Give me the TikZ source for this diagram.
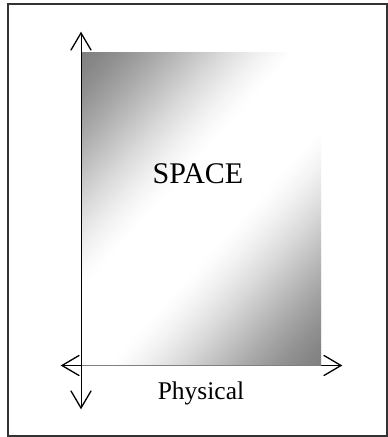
\documentclass[tikz,border=0pt]{standalone}
\usepackage{fontspec}
\setmainfont{Liberation Serif}
\usetikzlibrary{calc}
\tikzset{
  axisline/.style={line width=1pt,black},
  barb/.style={line width=1.3pt,black,line cap=round,line join=miter},
  frame/.style={draw=black!80,line width=1.1pt},
  lbl/.style={anchor=base,inner sep=0pt}
}
\begin{document}
\begin{tikzpicture}[x=1pt,y=1pt]
\useasboundingbox (0,0) rectangle (388,437);
\draw[frame] (8,1) rectangle (387,433);
% axes ends
\coordinate (hl) at (62,71.5);
\coordinate (hr) at (341,71.5);
\coordinate (vb) at (81,29);
\coordinate (vt) at (81,404);
\draw[axisline] (hl) -- (hr);
% shaded space
\begin{scope}
\clip (81,71.3) rectangle (321,384.3);
\begin{scope}[shift={(201,227.8)},rotate=48]
\foreach \i in {0,...,199}{
  \pgfmathsetmacro{\ya}{-200+2*\i}
  \pgfmathsetmacro{\yb}{\ya+2.6}
  \pgfmathsetmacro{\t}{max(0,min(1,(abs(\ya+1)-36)/158))}
  \pgfmathsetmacro{\p}{50*\t*\t*(3-2*\t)*0.5+25*\t}
  \fill[black!\p] (-320,\ya) rectangle (320,\yb);
}
\end{scope}
\end{scope}
\draw[black!50,line width=0.8pt] (81,71.5) -- (321,71.5);
\draw[axisline] (vb) -- (vt);
% arrow heads
\draw[barb] ($(vt)+(-10,-17)$) -- (vt) -- ($(vt)+(10,-17)$);
\draw[barb] ($(vb)+(-10,17)$) -- (vb) -- ($(vb)+(10,17)$);
\draw[barb] ($(hl)+(17,10)$) -- (hl) -- ($(hl)+(17,-10)$);
\draw[barb] ($(hr)+(-17,10)$) -- (hr) -- ($(hr)+(-17,-10)$);
\node[lbl,font=\fontsize{30}{36}\selectfont] (space) at (198,253) {SPACE};
\node[lbl,font=\fontsize{25.5}{30}\selectfont] (phys) at (201,37.7) {Physical};
\end{tikzpicture}
\end{document}
